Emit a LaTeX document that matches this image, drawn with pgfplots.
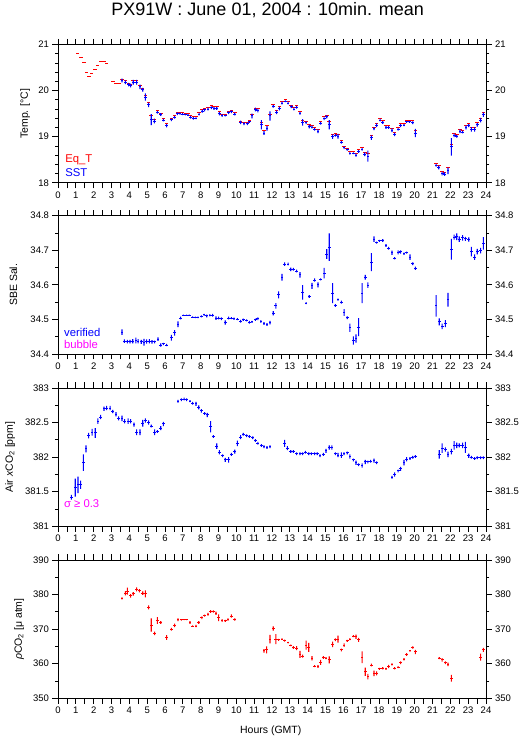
\documentclass[border=0pt]{standalone}
\usepackage{fontspec}
\setmainfont{Liberation Sans}
\usepackage{pgfplots}
\pgfplotsset{compat=1.18}
\usepackage{pgfplotstable}

\definecolor{gblue}{RGB}{0,0,255}
\definecolor{gred}{RGB}{255,0,0}
\definecolor{gmag}{RGB}{255,0,255}

\pgfplotstableread[row sep=\\]{
x y e\\
1.10 20.80 0.01\\ 1.29 20.71 0.01\\ 1.46 20.61 0.01\\ 1.59 20.39 0.01\\ 1.74 20.31 0.01\\
1.89 20.37 0.01\\ 2.07 20.46 0.01\\ 2.22 20.54 0.01\\ 2.41 20.63 0.01\\ 2.60 20.63 0.01\\
2.73 20.59 0.01\\ 3.07 20.20 0.01\\ 3.25 20.16 0.01\\ 3.43 20.16 0.01\\
3.59 20.24 0.015\\ 3.78 20.21 0.015\\ 3.96 20.16 0.015\\ 4.07 20.14 0.015\\ 4.22 20.21 0.015\\
4.41 20.21 0.015\\ 4.60 20.11 0.015\\ 4.75 20.05 0.015\\ 4.90 19.90 0.015\\ 5.08 19.74 0.015\\
5.23 19.45 0.015\\ 5.40 19.38 0.015\\ 5.57 19.56 0.015\\ 5.76 19.50 0.015\\ 5.91 19.39 0.015\\
6.09 19.28 0.015\\ 6.36 19.40 0.015\\ 6.54 19.45 0.015\\ 6.69 19.53 0.015\\ 6.84 19.53 0.015\\
6.99 19.52 0.015\\ 7.14 19.51 0.015\\ 7.29 19.50 0.015\\ 7.44 19.46 0.015\\ 7.59 19.43 0.015\\
7.74 19.44 0.015\\ 7.91 19.52 0.015\\ 8.09 19.59 0.015\\ 8.22 19.62 0.015\\ 8.41 19.64 0.015\\
8.60 19.68 0.015\\ 8.75 19.66 0.015\\ 8.90 19.65 0.015\\ 9.05 19.54 0.015\\ 9.20 19.49 0.015\\
9.38 19.49 0.015\\ 9.57 19.55 0.015\\ 9.72 19.57 0.015\\ 9.91 19.52 0.015\\ 10.24 19.34 0.015\\
10.43 19.31 0.015\\ 10.62 19.31 0.015\\ 10.73 19.36 0.015\\ 10.88 19.49 0.015\\ 11.07 19.62 0.015\\
11.21 19.61 0.015\\ 11.40 19.31 0.015\\ 11.55 19.13 0.015\\ 11.72 19.24 0.015\\ 11.89 19.48 0.015\\
12.07 19.69 0.015\\ 12.26 19.56 0.015\\ 12.41 19.65 0.015\\ 12.56 19.76 0.015\\ 12.75 19.80 0.015\\
12.90 19.76 0.015\\ 13.08 19.68 0.015\\ 13.23 19.63 0.015\\ 13.38 19.67 0.015\\ 13.57 19.54 0.015\\
13.72 19.35 0.015\\ 13.91 19.34 0.015\\ 14.09 19.26 0.015\\ 14.24 19.24 0.015\\ 14.39 19.19 0.015\\
14.58 19.15 0.015\\ 14.73 19.33 0.015\\ 14.92 19.43 0.015\\ 15.07 19.47 0.015\\ 15.21 19.33 0.015\\
15.40 19.04 0.015\\ 15.55 19.06 0.015\\ 15.70 19.05 0.015\\ 15.89 18.91 0.015\\ 16.04 18.79 0.015\\
16.22 18.75 0.015\\ 16.37 18.67 0.015\\ 16.56 18.67 0.015\\ 16.71 18.63 0.015\\ 16.86 18.72 0.015\\
17.05 18.77 0.015\\ 17.20 18.66 0.015\\ 17.38 18.64 0.015\\ 17.57 19.02 0.015\\ 17.72 19.21 0.015\\
17.87 19.28 0.015\\ 18.06 19.39 0.015\\ 18.21 19.35 0.015\\ 18.39 19.24 0.015\\ 18.54 19.24 0.015\\
18.73 19.18 0.015\\ 18.88 19.09 0.015\\ 19.07 19.20 0.015\\ 19.21 19.28 0.015\\ 19.40 19.28 0.015\\
19.55 19.36 0.015\\ 19.70 19.36 0.015\\ 19.89 19.35 0.015\\ 20.04 19.13 0.015\\
21.20 18.42 0.015\\ 21.35 18.37 0.015\\ 21.54 18.24 0.015\\ 21.68 18.23 0.015\\ 21.87 18.34 0.015\\
22.06 18.83 0.015\\ 22.21 19.06 0.015\\ 22.36 19.05 0.015\\ 22.54 19.15 0.015\\ 22.69 19.14 0.015\\
22.88 19.24 0.015\\ 23.03 19.28 0.015\\ 23.18 19.21 0.015\\ 23.36 19.21 0.015\\ 23.51 19.30 0.015\\
23.70 19.40 0.015\\ 23.85 19.52 0.015\\
}\eqt

\pgfplotstableread[row sep=\\]{
x y e\\
3.59 20.22 0.04\\ 3.78 20.18 0.04\\ 3.96 20.13 0.04\\ 4.07 20.11 0.04\\ 4.22 20.18 0.05\\
4.41 20.18 0.05\\ 4.60 20.08 0.05\\ 4.75 20.02 0.04\\ 4.90 19.86 0.08\\ 5.08 19.69 0.05\\
5.23 19.37 0.12\\ 5.40 19.34 0.05\\ 5.57 19.53 0.03\\ 5.76 19.48 0.03\\ 5.91 19.36 0.03\\
6.09 19.24 0.04\\ 6.36 19.37 0.03\\ 6.54 19.42 0.03\\ 6.69 19.50 0.03\\ 6.84 19.50 0.02\\
6.99 19.49 0.02\\ 7.14 19.48 0.02\\ 7.29 19.47 0.02\\ 7.44 19.42 0.03\\ 7.59 19.40 0.03\\
7.74 19.40 0.02\\ 7.91 19.49 0.03\\ 8.09 19.55 0.03\\ 8.22 19.58 0.03\\ 8.41 19.60 0.03\\
8.60 19.63 0.03\\ 8.75 19.61 0.03\\ 8.90 19.61 0.03\\ 9.05 19.50 0.04\\ 9.20 19.46 0.03\\
9.38 19.46 0.02\\ 9.57 19.52 0.03\\ 9.72 19.54 0.03\\ 9.91 19.49 0.03\\ 10.24 19.31 0.04\\
10.43 19.28 0.03\\ 10.62 19.28 0.03\\ 10.73 19.32 0.02\\ 10.88 19.45 0.05\\ 11.07 19.59 0.04\\
11.21 19.57 0.04\\ 11.40 19.26 0.10\\ 11.55 19.08 0.04\\ 11.72 19.18 0.05\\ 11.89 19.45 0.10\\
12.07 19.66 0.03\\ 12.26 19.53 0.04\\ 12.41 19.61 0.04\\ 12.56 19.73 0.03\\ 12.75 19.77 0.02\\
12.90 19.73 0.03\\ 13.08 19.65 0.03\\ 13.23 19.60 0.03\\ 13.38 19.64 0.03\\ 13.57 19.51 0.03\\
13.72 19.31 0.07\\ 13.91 19.30 0.03\\ 14.09 19.22 0.04\\ 14.24 19.21 0.03\\ 14.39 19.16 0.03\\
14.58 19.12 0.04\\ 14.73 19.29 0.03\\ 14.92 19.39 0.03\\ 15.07 19.43 0.03\\ 15.21 19.26 0.10\\
15.40 19.00 0.05\\ 15.55 19.03 0.03\\ 15.70 19.01 0.05\\ 15.89 18.88 0.03\\ 16.04 18.76 0.03\\
16.22 18.72 0.02\\ 16.37 18.64 0.03\\ 16.56 18.64 0.02\\ 16.71 18.60 0.03\\ 16.86 18.68 0.03\\
17.05 18.73 0.03\\ 17.20 18.62 0.04\\ 17.38 18.58 0.12\\ 17.57 18.98 0.05\\ 17.72 19.17 0.03\\
17.87 19.25 0.04\\ 18.06 19.36 0.03\\ 18.21 19.31 0.03\\ 18.39 19.20 0.03\\ 18.54 19.20 0.03\\
18.73 19.14 0.04\\ 18.88 19.05 0.04\\ 19.07 19.16 0.03\\ 19.21 19.24 0.03\\ 19.40 19.25 0.02\\
19.55 19.32 0.02\\ 19.70 19.32 0.02\\ 19.89 19.30 0.03\\ 20.04 19.08 0.09\\
21.20 18.38 0.03\\ 21.35 18.33 0.04\\ 21.54 18.20 0.04\\ 21.68 18.19 0.04\\ 21.87 18.26 0.07\\
22.06 18.78 0.19\\ 22.21 19.03 0.04\\ 22.36 19.01 0.03\\ 22.54 19.12 0.04\\ 22.69 19.10 0.03\\
22.88 19.20 0.04\\ 23.03 19.24 0.03\\ 23.18 19.16 0.05\\ 23.36 19.16 0.05\\ 23.51 19.26 0.04\\
23.70 19.36 0.05\\ 23.85 19.48 0.05\\
}\sst

\pgfplotstableread[row sep=\\]{
x y e\\
3.59 34.463 0.008\\ 3.72 34.437 0.005\\ 3.89 34.436 0.005\\ 4.04 34.436 0.005\\ 4.19 34.437 0.006\\
4.37 34.439 0.008\\ 4.49 34.437 0.006\\ 4.67 34.435 0.006\\ 4.82 34.434 0.010\\ 4.97 34.436 0.006\\
5.12 34.437 0.006\\ 5.27 34.435 0.005\\ 5.42 34.435 0.004\\ 5.61 34.443 0.005\\ 5.76 34.426 0.005\\
5.91 34.429 0.003\\ 6.09 34.426 0.003\\ 6.36 34.447 0.008\\ 6.54 34.461 0.008\\ 6.73 34.486 0.008\\
6.88 34.504 0.004\\ 7.03 34.512 0.002\\ 7.21 34.512 0.002\\ 7.36 34.512 0.002\\ 7.55 34.507 0.002\\
7.70 34.506 0.002\\ 7.85 34.506 0.002\\ 8.04 34.509 0.003\\ 8.19 34.513 0.003\\ 8.34 34.510 0.004\\
8.52 34.512 0.003\\ 8.67 34.512 0.004\\ 8.86 34.504 0.005\\ 9.01 34.504 0.004\\ 9.16 34.502 0.004\\
9.38 34.491 0.006\\ 9.57 34.504 0.004\\ 9.72 34.504 0.003\\ 9.87 34.502 0.003\\ 10.06 34.501 0.003\\
10.24 34.495 0.004\\ 10.39 34.499 0.003\\ 10.58 34.497 0.003\\ 10.73 34.492 0.004\\ 10.88 34.493 0.003\\
11.07 34.499 0.003\\ 11.21 34.502 0.004\\ 11.38 34.494 0.004\\ 11.55 34.488 0.004\\ 11.72 34.485 0.004\\
11.89 34.491 0.005\\ 12.07 34.518 0.006\\ 12.22 34.539 0.008\\ 12.37 34.571 0.010\\ 12.56 34.622 0.010\\
12.71 34.660 0.005\\ 12.90 34.660 0.004\\ 13.05 34.645 0.005\\ 13.20 34.645 0.004\\ 13.38 34.640 0.004\\
13.57 34.629 0.008\\ 13.72 34.578 0.021\\ 13.91 34.547 0.003\\ 14.09 34.566 0.004\\ 14.24 34.597 0.009\\
14.39 34.614 0.005\\ 14.58 34.600 0.007\\ 14.73 34.616 0.003\\ 14.92 34.634 0.015\\ 15.07 34.689 0.014\\
15.21 34.709 0.040\\ 15.40 34.576 0.029\\ 15.55 34.540 0.004\\ 15.70 34.557 0.003\\ 15.89 34.550 0.004\\
16.04 34.520 0.010\\ 16.22 34.505 0.004\\ 16.37 34.476 0.012\\ 16.56 34.439 0.012\\ 16.71 34.445 0.012\\
16.86 34.478 0.026\\ 17.05 34.576 0.029\\ 17.23 34.622 0.007\\ 17.38 34.599 0.008\\ 17.57 34.666 0.026\\
17.72 34.732 0.008\\ 17.87 34.722 0.003\\ 18.02 34.727 0.003\\ 18.21 34.728 0.004\\ 18.39 34.714 0.004\\
18.54 34.706 0.004\\ 18.73 34.693 0.006\\ 18.88 34.677 0.003\\ 19.07 34.694 0.006\\ 19.21 34.695 0.005\\
19.40 34.690 0.003\\ 19.55 34.693 0.003\\ 19.74 34.680 0.008\\ 19.89 34.661 0.004\\ 20.04 34.648 0.005\\
21.20 34.539 0.031\\ 21.38 34.493 0.010\\ 21.54 34.480 0.008\\ 21.72 34.488 0.010\\ 21.87 34.557 0.020\\
22.06 34.703 0.030\\ 22.21 34.738 0.007\\ 22.36 34.739 0.010\\ 22.50 34.732 0.008\\ 22.69 34.736 0.008\\
22.84 34.733 0.006\\ 23.03 34.731 0.006\\ 23.18 34.696 0.014\\ 23.36 34.680 0.008\\ 23.51 34.696 0.008\\
23.70 34.699 0.008\\ 23.85 34.720 0.018\\
}\sal

\pgfplotstableread[row sep=\\]{
x y e\\
0.75 381.42 0.035\\ 0.97 381.56 0.13\\ 1.12 381.60 0.12\\ 1.27 381.60 0.06\\ 1.42 381.92 0.12\\
1.57 382.12 0.05\\ 1.72 382.31 0.04\\ 1.91 382.36 0.05\\ 2.09 382.35 0.07\\ 2.24 382.52 0.04\\
2.39 382.58 0.03\\ 2.58 382.70 0.03\\ 2.73 382.71 0.03\\ 2.92 382.71 0.03\\ 3.07 382.66 0.025\\
3.25 382.62 0.03\\ 3.40 382.56 0.03\\ 3.59 382.56 0.04\\ 3.74 382.52 0.03\\ 3.93 382.52 0.04\\
4.07 382.52 0.03\\ 4.26 382.47 0.03\\ 4.41 382.36 0.04\\ 4.60 382.36 0.04\\ 4.75 382.49 0.05\\
4.90 382.53 0.03\\ 5.08 382.50 0.03\\ 5.23 382.45 0.02\\ 5.42 382.36 0.04\\ 5.57 382.37 0.02\\
5.76 382.42 0.03\\ 5.91 382.48 0.03\\
6.73 382.81 0.02\\ 6.92 382.83 0.02\\ 7.07 382.84 0.02\\ 7.21 382.83 0.02\\ 7.40 382.81 0.015\\
7.55 382.78 0.02\\ 7.74 382.77 0.03\\ 7.89 382.72 0.03\\ 8.04 382.67 0.025\\ 8.22 382.63 0.02\\
8.37 382.61 0.03\\ 8.56 382.44 0.08\\ 8.71 382.30 0.02\\ 8.90 382.16 0.04\\ 9.05 382.07 0.03\\
9.23 382.02 0.02\\ 9.38 381.96 0.03\\ 9.57 381.96 0.04\\ 9.72 382.04 0.02\\ 9.91 382.08 0.03\\
10.06 382.20 0.04\\ 10.24 382.29 0.03\\ 10.39 382.33 0.02\\ 10.58 382.31 0.02\\ 10.73 382.30 0.02\\
10.92 382.28 0.02\\ 11.07 382.24 0.02\\ 11.21 382.20 0.02\\ 11.40 382.17 0.02\\ 11.55 382.15 0.02\\
11.72 382.14 0.02\\ 11.89 382.15 0.02\\
12.71 382.20 0.05\\ 12.86 382.13 0.03\\ 13.05 382.08 0.02\\ 13.20 382.08 0.02\\ 13.38 382.05 0.02\\
13.57 382.05 0.02\\ 13.72 382.05 0.02\\ 13.87 382.07 0.02\\ 14.06 382.05 0.02\\ 14.21 382.05 0.02\\
14.39 382.05 0.02\\ 14.54 382.05 0.02\\ 14.69 382.02 0.02\\ 14.88 382.04 0.02\\ 15.03 382.09 0.03\\
15.21 382.14 0.03\\ 15.36 382.14 0.03\\ 15.55 382.05 0.02\\ 15.70 382.03 0.03\\ 15.89 382.03 0.04\\
16.04 382.05 0.02\\ 16.22 382.06 0.02\\ 16.37 382.01 0.03\\ 16.56 381.96 0.02\\ 16.71 381.92 0.03\\
16.86 381.89 0.02\\ 17.05 381.88 0.03\\ 17.23 381.93 0.03\\ 17.38 381.93 0.02\\ 17.53 381.94 0.02\\
17.72 381.95 0.03\\ 17.87 381.92 0.02\\
18.73 381.71 0.02\\ 18.88 381.75 0.03\\ 19.07 381.80 0.02\\ 19.21 381.83 0.03\\ 19.40 381.92 0.04\\
19.55 381.97 0.03\\ 19.74 381.98 0.02\\ 19.89 382.00 0.02\\ 20.04 382.01 0.02\\
21.38 382.04 0.06\\ 21.54 382.13 0.07\\ 21.72 382.11 0.03\\ 21.87 382.04 0.04\\ 22.06 382.08 0.04\\
22.21 382.17 0.06\\ 22.36 382.17 0.04\\ 22.50 382.17 0.03\\ 22.69 382.17 0.04\\ 22.84 382.14 0.08\\
23.03 382.02 0.03\\ 23.18 382.00 0.02\\ 23.36 381.98 0.02\\ 23.51 381.99 0.02\\ 23.70 381.99 0.02\\
23.85 381.99 0.02\\
}\co

\pgfplotstableread[row sep=\\]{
x y e\\
3.59 378.9 0.3\\ 3.78 380.4 0.6\\ 3.89 381.0 1.0\\ 4.07 379.6 0.5\\ 4.22 380.2 0.5\\
4.41 381.5 0.6\\ 4.56 381.1 0.5\\ 4.75 380.4 0.5\\ 4.90 380.2 1.0\\ 5.08 376.3 0.6\\
5.23 371.2 1.9\\ 5.42 368.8 0.5\\ 5.57 372.5 1.0\\ 5.76 371.9 0.4\\ 6.09 367.6 0.7\\
6.36 370.0 0.4\\ 6.54 371.1 0.5\\ 6.73 372.7 0.4\\ 6.92 372.7 0.2\\ 7.07 372.7 0.1\\
7.21 372.7 0.1\\ 7.40 371.9 0.4\\ 7.55 370.9 0.2\\ 7.74 370.9 0.3\\ 7.89 371.9 0.4\\
8.07 373.3 0.4\\ 8.22 373.9 0.3\\ 8.41 374.3 0.4\\ 8.56 375.1 0.4\\ 8.71 375.1 0.3\\
8.86 374.6 0.5\\ 9.01 373.3 1.0\\ 9.20 372.5 0.4\\ 9.38 372.4 0.3\\ 9.53 372.8 0.3\\
9.72 373.8 0.5\\ 9.91 372.8 0.3\\
11.55 363.7 0.5\\ 11.70 364.0 1.0\\ 11.89 367.1 1.25\\ 12.07 370.2 0.6\\ 12.22 367.1 1.45\\
12.37 366.9 0.3\\ 12.56 367.1 0.2\\ 12.71 366.7 0.3\\ 12.90 366.1 0.2\\ 13.05 365.3 0.2\\
13.20 364.7 0.4\\ 13.38 364.5 0.6\\ 13.57 362.7 1.0\\ 13.72 362.2 0.4\\ 13.91 365.4 1.3\\
14.06 364.7 1.3\\ 14.24 361.6 0.6\\ 14.39 359.3 0.3\\ 14.58 359.2 0.4\\ 14.73 360.4 0.7\\
14.88 361.8 0.4\\ 15.03 361.6 0.3\\ 15.21 361.1 1.0\\ 15.40 365.6 0.8\\ 15.55 366.9 0.4\\
15.70 367.1 1.0\\ 15.89 364.0 0.4\\ 16.04 365.4 0.5\\ 16.22 366.6 0.3\\ 16.37 367.1 0.3\\
16.56 368.0 0.3\\ 16.71 367.8 0.6\\ 16.86 366.9 0.6\\ 17.05 361.9 1.7\\ 17.23 357.7 1.2\\
17.38 356.3 0.8\\ 17.57 359.6 0.4\\ 17.72 357.2 0.8\\ 17.87 357.2 0.6\\ 18.02 358.5 0.3\\
18.21 358.7 0.3\\ 18.39 358.5 0.3\\ 18.54 359.2 0.5\\ 18.73 359.8 0.3\\ 18.88 358.7 0.3\\
19.07 359.0 0.3\\ 19.21 360.3 0.4\\ 19.40 361.3 0.3\\ 19.55 362.7 0.4\\ 19.74 363.7 0.2\\
19.89 364.7 0.3\\ 20.04 363.4 0.6\\
21.38 361.6 0.3\\ 21.54 361.1 0.5\\ 21.72 360.3 0.4\\ 21.87 359.8 0.5\\ 22.06 355.8 1.0\\
23.70 361.9 1.0\\ 23.85 364.0 0.6\\
}\pco

\pgfplotsset{
  panel/.style={
    scale only axis, width=428pt, height=138.3pt,
    xmin=0, xmax=24,
    xtick={0,0.5,...,24},
    xticklabels={0,,1,,2,,3,,4,,5,,6,,7,,8,,9,,10,,11,,12,,13,,14,,15,,16,,17,,18,,19,,20,,21,,22,,23,,24},
    tick align=outside,
    major tick length=5.5pt, minor tick length=3pt,
    axis line style={line width=0.8pt},
    xtick style={black, line width=0.8pt},
    ytick style={black, line width=0.8pt},
    tick label style={font=\fontsize{9.5}{11}\selectfont},
    /pgf/number format/assume math mode=true,
    every axis y label/.style={rotate=90, anchor=center, font=\fontsize{10.5}{12}\selectfont},
    anchor=north west,
  },
  rpanel/.style={
    scale only axis, width=428pt, height=138.3pt,
    xmin=0, xmax=24, xtick=\empty,
    tick align=outside,
    major tick length=5.5pt, minor tick length=3pt,
    axis line style={line width=0.8pt},
    ytick style={black, line width=0.8pt},
    tick label style={font=\fontsize{9.5}{11}\selectfont},
    /pgf/number format/assume math mode=true,
    ytick pos=right, yticklabel pos=right,
    anchor=north west,
  },
  vover/.style={
    scale only axis, width=428pt, height=138.3pt,
    xmin=0, xmax=24, hide axis, anchor=north west,
    ybar stacked, bar width=1.1pt,
  },
  hseg/.style 2 args={color=#1, only marks, mark=text, text mark={}, forget plot,
     error bars/.cd, x dir=both, x fixed=#2, y dir=none, error mark=none,
     error bar style={draw=#1, solid, line width=1pt}},
  vbase/.style={draw=none, fill=none, forget plot},
  vfill/.style={draw=none, fill=#1, forget plot},
}

\begin{document}
\begin{tikzpicture}
\useasboundingbox (0,0) rectangle (529pt,739pt);

% ---------- Panel 1 ----------
\begin{axis}[panel, at={(58pt,694.5pt)},
  ymin=18, ymax=21, ytick={18,19,20,21}, minor y tick num=4,
  ylabel={Temp. [°C]},
  every axis y label/.append style={at={(axis description cs:-0.077,0.5)}},
  title={PX91W : June 01, 2004 : 10min. mean},
  every axis title shift=0pt,
  title style={at={(axis description cs:0.49,1.246)}, anchor=center, yshift=0pt, font=\fontsize{18}{20}\selectfont}]
\addplot[hseg={gred}{0.1}] table[x=x, y=y] {\eqt};
\addplot[hseg={gblue}{0.08}] table[x=x, y=y] {\sst};
\node[anchor=base west, text=gred, font=\fontsize{11.3}{13}\selectfont] at (rel axis cs:0.009,0.145) {Eq\_T};
\node[anchor=base west, text=gblue, font=\fontsize{11.3}{13}\selectfont] at (rel axis cs:0.009,0.043) {SST};
\end{axis}
\begin{axis}[vover, at={(58pt,694.5pt)}, ymin=18, ymax=21]
\addplot[vbase] table[x=x, y expr=\thisrow{y}-\thisrow{e}] {\sst};
\addplot[vfill=gblue] table[x=x, y expr=2*\thisrow{e}] {\sst};
\end{axis}
\begin{axis}[rpanel, at={(58pt,694.5pt)},
  ymin=18, ymax=21, ytick={18,19,20,21}, minor y tick num=4]
\end{axis}

% ---------- Panel 2 ----------
\begin{axis}[panel, at={(58pt,523.3pt)},
  ymin=34.4, ymax=34.8, ytick={34.4,34.5,34.6,34.7,34.8}, minor y tick num=1,
  ylabel={SBE Sal.},
  every axis y label/.append style={at={(axis description cs:-0.104,0.5)}}]
\addplot[hseg={gblue}{0.08}] table[x=x, y=y] {\sal};
\node[anchor=base west, text=gblue, font=\fontsize{11.3}{13}\selectfont] at (rel axis cs:0.006,0.130) {verified};
\node[anchor=base west, text=gmag, font=\fontsize{11.3}{13}\selectfont] at (rel axis cs:0.006,0.041) {bubble};
\end{axis}
\begin{axis}[vover, at={(58pt,523.3pt)}, ymin=34.4, ymax=34.8]
\addplot[vbase] table[x=x, y expr=\thisrow{y}-\thisrow{e}] {\sal};
\addplot[vfill=gblue] table[x=x, y expr=2*\thisrow{e}] {\sal};
\end{axis}
\begin{axis}[rpanel, at={(58pt,523.3pt)},
  ymin=34.4, ymax=34.8, ytick={34.4,34.5,34.6,34.7,34.8}, minor y tick num=1]
\end{axis}

% ---------- Panel 3 ----------
\begin{axis}[panel, at={(58pt,351pt)},
  ymin=381, ymax=383, ytick={381,381.5,382,382.5,383}, minor y tick num=1,
  ylabel={Air \textit{x}CO\textsubscript{2} [ppm]},
  every axis y label/.append style={at={(axis description cs:-0.112,0.5)}}]
\addplot[hseg={gblue}{0.08}] table[x=x, y=y] {\co};
\node[anchor=base west, text=gmag, font=\fontsize{11.3}{13}\selectfont] at (rel axis cs:0.006,0.137) {σ ≥ 0.3};
\end{axis}
\begin{axis}[vover, at={(58pt,351pt)}, ymin=381, ymax=383]
\addplot[vbase] table[x=x, y expr=\thisrow{y}-\thisrow{e}] {\co};
\addplot[vfill=gblue] table[x=x, y expr=2*\thisrow{e}] {\co};
\end{axis}
\begin{axis}[rpanel, at={(58pt,351pt)},
  ymin=381, ymax=383, ytick={381,381.5,382,382.5,383}, minor y tick num=1]
\end{axis}

% ---------- Panel 4 ----------
\begin{axis}[panel, at={(58pt,179pt)},
  ymin=350, ymax=390, ytick={350,360,370,380,390}, minor y tick num=1,
  ylabel={\textit{ρ}CO\textsubscript{2} [μ atm]},
  every axis y label/.append style={at={(axis description cs:-0.091,0.5)}},
  xlabel={Hours (GMT)},
  every axis x label/.style={at={(axis description cs:0.497,-0.236)}, anchor=center, font=\fontsize{10.5}{12}\selectfont}]
\addplot[hseg={gred}{0.08}] table[x=x, y=y] {\pco};
\end{axis}
\begin{axis}[vover, at={(58pt,179pt)}, ymin=350, ymax=390]
\addplot[vbase] table[x=x, y expr=\thisrow{y}-\thisrow{e}] {\pco};
\addplot[vfill=gred] table[x=x, y expr=2*\thisrow{e}] {\pco};
\end{axis}
\begin{axis}[rpanel, at={(58pt,179pt)},
  ymin=350, ymax=390, ytick={350,360,370,380,390}, minor y tick num=1]
\end{axis}
\end{tikzpicture}
\end{document}
